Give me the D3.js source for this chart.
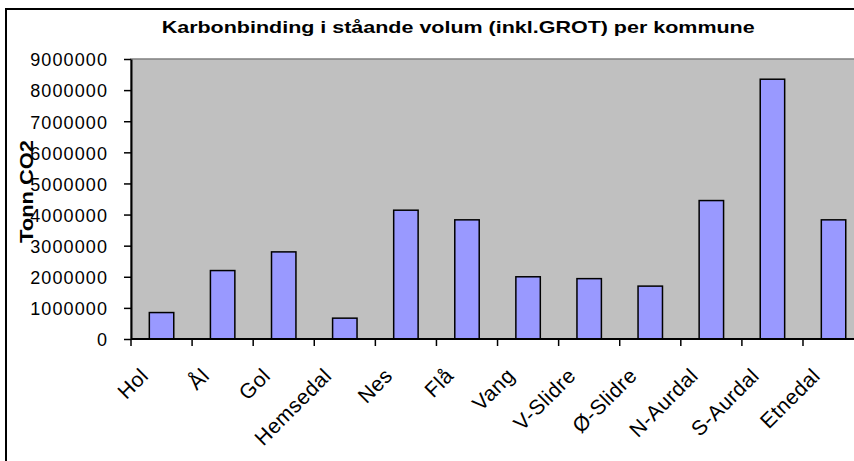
<!DOCTYPE html>
<html>
<head>
<meta charset="utf-8">
<script src="https://cdn.jsdelivr.net/npm/d3@7"></script>
<style>
  html, body { margin: 0; padding: 0; background: #fff; }
  svg { display: block; font-family: Arial, "Liberation Sans", sans-serif; }
</style>
</head>
<body>
<div id="chart"></div>
<script>
// data
var kommuner = ["Hol", "Ål", "Gol", "Hemsedal", "Nes", "Flå", "Vang", "V-Slidre", "Ø-Slidre", "N-Aurdal", "S-Aurdal", "Etnedal"];
var tonnCO2 = [850000, 2200000, 2800000, 670000, 4140000, 3830000, 2000000, 1940000, 1700000, 4450000, 8350000, 3830000];
var yTicks = [0, 1000000, 2000000, 3000000, 4000000, 5000000, 6000000, 7000000, 8000000, 9000000];
var title = "Karbonbinding i ståande volum (inkl.GROT) per kommune";
var yTitle = "Tonn CO2";

var width = 854, height = 461;
var plot = { left: 131, top: 59, bottom: 339, band: 61.09 };

var svg = d3.select("#chart")
    .append("svg")
    .attr("width", width)
    .attr("height", height);

// outer chart frame (runs past right/bottom edge like the original)
svg.append("rect")
    .attr("x", 6)
    .attr("y", 9)
    .attr("width", 940)
    .attr("height", 520)
    .style("fill", "#fff")
    .style("stroke", "#000")
    .style("stroke-width", "2px");

var x = d3.scaleBand()
    .domain(kommuner)
    .range([plot.left, plot.left + plot.band * kommuner.length])
    .padding(0);

var y = d3.scaleLinear()
    .domain([0, 9000000])
    .range([plot.bottom, plot.top]);

// grey plot area
svg.append("rect")
    .attr("x", x.range()[0])
    .attr("y", y(9000000))
    .attr("width", x.range()[1] - x.range()[0])
    .attr("height", y(0) - y(9000000))
    .style("fill", "#C0C0C0")
    .style("stroke", "#808080")
    .style("stroke-width", "1.5px");

// bars, excel style gap width 150%
var bw = x.bandwidth() / 2.5;
svg.selectAll(".bar")
    .data(kommuner)
    .enter()
    .append("rect")
    .attr("class", "bar")
    .attr("x", function (d) { return x(d) + (x.bandwidth() - bw) / 2; })
    .attr("y", function (d, i) { return y(tonnCO2[i]); })
    .attr("width", bw)
    .attr("height", function (d, i) { return y(0) - y(tonnCO2[i]); })
    .style("fill", "#9999FF")
    .style("stroke", "#000")
    .style("stroke-width", "1.5px");

// y axis
var yAxis = svg.append("g")
    .attr("transform", "translate(" + plot.left + ",0)")
    .call(d3.axisLeft(y)
        .tickValues(yTicks)
        .tickFormat(d3.format("d"))
        .tickSize(7)
        .tickSizeOuter(0)
        .tickPadding(16));

yAxis.select(".domain").style("stroke", "#000").style("stroke-width", "2px");
yAxis.selectAll(".tick line").style("stroke", "#000").style("stroke-width", "1.5px");
yAxis.selectAll(".tick text")
    .attr("dy", "0.38em")
    .style("font-size", "18px")
    .style("letter-spacing", "1.1px")
    .style("fill", "#000");

// x axis: ticks sit between categories
var xAxis = svg.append("g");
xAxis.append("line")
    .attr("x1", x.range()[0])
    .attr("x2", x.range()[1])
    .attr("y1", y(0))
    .attr("y2", y(0))
    .style("stroke", "#000")
    .style("stroke-width", "2px");

var tickPos = kommuner.map(function (d) { return x(d); }).concat([x.range()[1]]);
xAxis.selectAll(".xtick")
    .data(tickPos)
    .enter()
    .append("line")
    .attr("class", "xtick")
    .attr("x1", function (d) { return d; })
    .attr("x2", function (d) { return d; })
    .attr("y1", y(0))
    .attr("y2", y(0) + 7)
    .style("stroke", "#000")
    .style("stroke-width", "1.5px");

xAxis.selectAll(".xlabel")
    .data(kommuner)
    .enter()
    .append("text")
    .attr("class", "xlabel")
    .attr("text-anchor", "end")
    .attr("transform", function (d) {
        var cx = x(d) + x.bandwidth() / 2;
        return "translate(" + (cx - 12) + "," + (y(0) + 38) + ") rotate(-45)";
    })
    .style("font-size", "21px")
    .style("letter-spacing", "0.5px")
    .style("fill", "#000")
    .text(function (d) { return d; });

// titles
svg.append("text")
    .attr("x", 161.7)
    .attr("y", 32.7)
    .attr("textLength", 593)
    .attr("lengthAdjust", "spacingAndGlyphs")
    .style("font-size", "16.5px")
    .style("font-weight", "bold")
    .style("fill", "#000")
    .text(title);

svg.append("text")
    .attr("transform", "translate(33,191.5) rotate(-90)")
    .attr("text-anchor", "middle")
    .attr("textLength", 103)
    .attr("lengthAdjust", "spacingAndGlyphs")
    .style("font-size", "19px")
    .style("font-weight", "bold")
    .style("fill", "#000")
    .text(yTitle);
</script>
</body>
</html>
